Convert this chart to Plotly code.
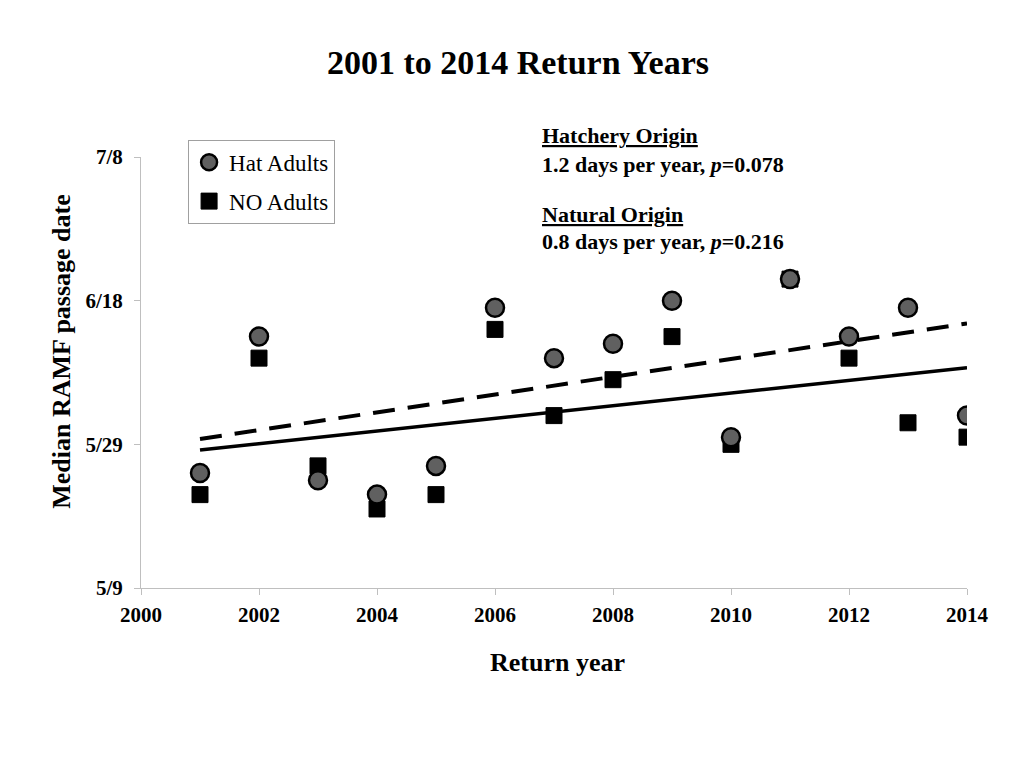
import numpy as np
import plotly.graph_objects as go

# ===== data =====
years = [2001, 2002, 2003, 2004, 2005, 2006, 2007, 2008, 2009, 2010, 2011, 2012, 2013, 2014]
# median passage date as day of year
hat_adults = [145, 164, 144, 142, 146, 168, 161, 163, 169, 150, 172, 164, 168, 153]
no_adults = [142, 161, 146, 140, 142, 165, 153, 158, 164, 149, 172, 161, 152, 150]

y_tickvals = [129, 149, 169, 189]
y_ticktext = ["5/9", "5/29", "6/18", "7/8"]
x_tickvals = [2000, 2002, 2004, 2006, 2008, 2010, 2012, 2014]

FONT = "Liberation Serif, Times New Roman, serif"

# ===== trend lines (least squares) =====
yr = np.array(years, dtype=float)
hat_fit = np.polyfit(yr, hat_adults, 1)
no_fit = np.polyfit(yr, no_adults, 1)
line_x = np.array([years[0], years[-1]], dtype=float)

fig = go.Figure()

fig.add_trace(go.Scatter(
    x=line_x, y=np.polyval(hat_fit, line_x), mode="lines",
    line=dict(color="black", width=4, dash="22px,13px"),
    showlegend=False, hoverinfo="skip",
))
fig.add_trace(go.Scatter(
    x=line_x, y=np.polyval(no_fit, line_x), mode="lines",
    line=dict(color="black", width=3.5),
    showlegend=False, hoverinfo="skip",
))

fig.add_trace(go.Scatter(
    x=years, y=no_adults, mode="markers", name="NO Adults",
    marker=dict(symbol="square", size=16, color="black",
                line=dict(color="black", width=1)),
    legendgroup="no", legendrank=2,
))
fig.add_trace(go.Scatter(
    x=years, y=hat_adults, mode="markers", name="Hat Adults",
    marker=dict(symbol="circle", size=18, color="#606060",
                line=dict(color="black", width=2.5)),
    legendgroup="hat", legendrank=1,
))

# ===== annotations =====
ann = [
    dict(text="<u>Hatchery Origin</u>", y=1.050),
    dict(text="1.2 days per year, <i>p</i>=0.078", y=0.983),
    dict(text="<u>Natural Origin</u>", y=0.866),
    dict(text="0.8 days per year, <i>p</i>=0.216", y=0.805),
]
annotations = [
    dict(xref="paper", yref="paper", x=0.483, xanchor="left", yanchor="middle",
         showarrow=False,
         font=dict(family=FONT, size=22, color="black", weight="bold"), **a)
    for a in ann
]
annotations.append(dict(
    xref="paper", yref="paper", x=-0.0956, y=0.548, textangle=-90,
    text="Median RAMF passage date", showarrow=False,
    font=dict(family=FONT, size=26, color="black", weight="bold"),
    xanchor="center", yanchor="middle",
))
annotations.append(dict(
    xref="paper", yref="paper", x=0.504, y=-0.172,
    text="Return year", showarrow=False,
    font=dict(family=FONT, size=26, color="black", weight="bold"),
    xanchor="center", yanchor="middle",
))

tick_font = dict(family=FONT, size=21, color="black", weight="bold")

fig.update_layout(
    width=1024, height=768,
    paper_bgcolor="white", plot_bgcolor="white",
    margin=dict(l=133, r=65, t=149, b=188),
    font=dict(family=FONT, color="black"),
    title=dict(text="2001 to 2014 Return Years",
               x=0.498, y=0.930, xref="container", yref="container",
               xanchor="center", yanchor="middle",
               font=dict(family=FONT, size=34, color="black", weight="bold")),
    xaxis=dict(range=[2000, 2014], tickvals=x_tickvals,
               showgrid=False, zeroline=False, showline=True,
               linecolor="#BFBFBF", linewidth=1,
               ticks="outside", ticklen=6, tickcolor="#BFBFBF",
               ticklabelstandoff=2, tickfont=tick_font),
    yaxis=dict(range=[129, 189], tickvals=y_tickvals, ticktext=y_ticktext,
               showgrid=False, zeroline=False, showline=True,
               linecolor="#BFBFBF", linewidth=1,
               ticks="outside", ticklen=6, tickcolor="#BFBFBF",
               ticklabelstandoff=7, tickfont=tick_font),
    legend=dict(x=0.057, y=1.04, xanchor="left", yanchor="top",
                bgcolor="white", bordercolor="#A0A0A0", borderwidth=1,
                font=dict(family=FONT, size=23, color="black"),
                traceorder="grouped", tracegroupgap=6,
                itemwidth=30),
    annotations=annotations,
    showlegend=True,
)

fig.write_html("out.html")
